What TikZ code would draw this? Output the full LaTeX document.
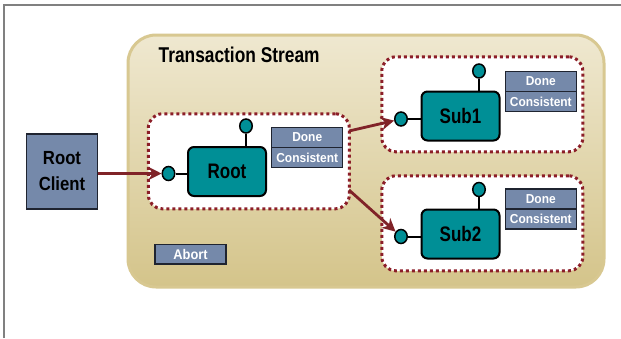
\documentclass[tikz,border=0pt]{standalone}
\usepackage{fontspec}
\setmainfont{Liberation Sans}
\newfontfamily\fbig{Liberation Sans}[FakeStretch=0.81]
\newfontfamily\fmid{Liberation Sans}[FakeStretch=0.88]
\newfontfamily\fsml{Liberation Sans}[FakeStretch=0.92]
\usetikzlibrary{shapes.geometric,arrows.meta}
\definecolor{tanlight}{RGB}{239,232,208}
\definecolor{tandark}{RGB}{212,196,138}
\definecolor{tanborder}{RGB}{216,200,145}
\definecolor{framegray}{RGB}{128,128,128}
\definecolor{tealc}{RGB}{0,143,150}
\definecolor{bluegrey}{RGB}{117,137,170}
\definecolor{boxdark}{RGB}{31,36,48}
\definecolor{dotred}{RGB}{140,30,40}
\definecolor{arrred}{RGB}{128,35,40}
\tikzset{
  grp/.style={draw=dotred, line width=3pt, dash pattern=on 3pt off 3pt, rounded corners=14pt, fill=white, minimum width=201pt, minimum height=95pt, inner sep=0pt},
  tealbox/.style={draw=black, line width=2pt, fill=tealc, rounded corners=6pt, minimum width=78pt, minimum height=49pt, inner sep=0pt, font=\fbig\bfseries\fontsize{21}{24}\selectfont},
  port/.style={ellipse, draw=black, line width=1.5pt, fill=tealc, minimum width=12.5pt, minimum height=14pt, inner sep=0pt},
  conn/.style={draw=black, line width=2pt},
  flag/.style={draw=boxdark, line width=1.3pt, fill=bluegrey, text=white, minimum width=71pt, minimum height=20pt, inner sep=0pt, font=\fsml\bfseries\fontsize{13}{15}\selectfont},
  arr/.style={draw=arrred, line width=2.8pt, -{Stealth[length=13pt,width=13pt,inset=4pt]}}
}
\begin{document}
\begin{tikzpicture}[x=1pt,y=-1pt]
\useasboundingbox (0,0) rectangle (621,338);
\fill[white] (0,0) rectangle (621,338);
\draw[framegray, line width=1.5pt] (4,338) -- (4,5) -- (621,5);
\draw[tanborder, line width=3pt, top color=tanlight, bottom color=tandark, rounded corners=28pt] (128,35) rectangle (604,287);
\node[anchor=base west, inner sep=0pt, font=\fbig\bfseries\fontsize{21.4}{24}\selectfont] (title) at (158.5,62.7) {Transaction Stream};

% Root client
\node[draw=boxdark, line width=1.3pt, fill=bluegrey, minimum width=71pt, minimum height=75pt, inner sep=0pt, align=center, font=\fmid\bfseries\fontsize{19}{26}\selectfont] (rc) at (62,171.5) {Root\\Client};

% groups
\node[grp] (rootgrp) at (248.8,161.3) {};
\node[grp] (sub1grp) at (482.3,104.3) {};
\node[grp] (sub2grp) at (482.3,223.3) {};

% Root
\node[tealbox] (root) at (227,171.5) {Root};
\node[port] (rt) at (246,126) {};
\node[port] (rl) at (168.5,173.5) {};
\draw[conn] (rt) -- (rt |- root.north);
\draw[conn] (rl) -- (rl -| root.west);
\node[flag] (rdone) at (307.25,137.5) {Done};
\node[flag] (rcons) at (307.25,157.5) {Consistent};

% Sub1
\node[tealbox] (sub1) at (460.5,116) {Sub1};
\node[port] (s1t) at (479,71) {};
\node[port] (s1l) at (401,119) {};
\draw[conn] (s1t) -- (s1t |- sub1.north);
\draw[conn] (s1l) -- (s1l -| sub1.west);
\node[flag] (s1done) at (540.8,81.5) {Done};
\node[flag] (s1cons) at (540.8,101.5) {Consistent};

% Sub2
\node[tealbox] (sub2) at (460.5,234) {Sub2};
\node[port] (s2t) at (479,189.5) {};
\node[port] (s2l) at (401,236.5) {};
\draw[conn] (s2t) -- (s2t |- sub2.north);
\draw[conn] (s2l) -- (s2l -| sub2.west);
\node[flag] (s2done) at (540.8,199) {Done};
\node[flag] (s2cons) at (540.8,219) {Consistent};

% Abort
\node[flag, minimum height=19.5pt, font=\fsml\bfseries\fontsize{14}{16}\selectfont] (abort) at (190.5,254.3) {Abort};

% arrows
\coordinate (a1) at (349,131);
\coordinate (a2) at (349,190);
\draw[arr] (rc.east |- rl) -- (rl);
\draw[arr] (a1) -- (s1l);
\draw[arr] (a2) -- (s2l);
\end{tikzpicture}
\end{document}
